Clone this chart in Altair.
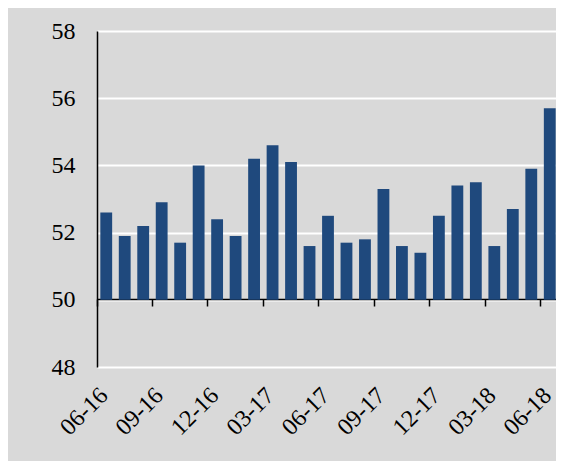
import altair as alt
import pandas as pd

months = ["06-16", "07-16", "08-16", "09-16", "10-16", "11-16", "12-16",
          "01-17", "02-17", "03-17", "04-17", "05-17", "06-17", "07-17",
          "08-17", "09-17", "10-17", "11-17", "12-17", "01-18", "02-18",
          "03-18", "04-18", "05-18", "06-18"]
values = [52.6, 51.9, 52.2, 52.9, 51.7, 54.0, 52.4, 51.9, 54.2, 54.6, 54.1,
          51.6, 52.5, 51.7, 51.8, 53.3, 51.6, 51.4, 52.5, 53.4, 53.5, 51.6,
          52.7, 53.9, 55.7]
label_months = ["06-16", "09-16", "12-16", "03-17", "06-17", "09-17",
                "12-17", "03-18", "06-18"]
y_ticks = [48, 50, 52, 54, 56, 58]
baseline = 50

df = pd.DataFrame({"month": months, "value": values, "base": [baseline] * len(months)})

FONT = "Liberation Serif"

chart = alt.Chart(df).mark_bar(color="#1F497D", width=alt.RelativeBandSize(0.64)).encode(
    x=alt.X("month:N", sort=None, title=None,
            scale=alt.Scale(paddingInner=0, paddingOuter=0, range=[0, 462]),
            axis=alt.Axis(values=label_months, labelAngle=-45, offset=-68,
                          bandPosition=0,
                          domainColor="#000000", domainWidth=1.5,
                          tickColor="#000000", tickWidth=1.5, tickSize=7,
                          labelAlign="right", labelBaseline="top",
                          labelOffset=-10.5, labelPadding=77,
                          labelFont=FONT, labelFontSize=24, labelColor="#000000",
                          grid=False)),
    y=alt.Y("value:Q", title=None,
            scale=alt.Scale(domain=[48, 58], nice=False, zero=False),
            axis=alt.Axis(values=y_ticks, ticks=False, labelPadding=22,
                          domainColor="#000000", domainWidth=1.5,
                          gridColor="#ffffff", gridWidth=2, gridOpacity=1,
                          labelFont=FONT, labelFontSize=24, labelColor="#000000")),
    y2="base:Q",
).properties(
    width=459, height=336,
    autosize=alt.AutoSizeParams(type="none"),
    padding={"left": 89, "top": 23, "right": 0, "bottom": 94},
).configure(
    background="#d9d9d9",
).configure_view(
    fill="#d9d9d9", stroke=None,
)

chart.save("out.html", embed_options={"renderer": "svg", "actions": False})
